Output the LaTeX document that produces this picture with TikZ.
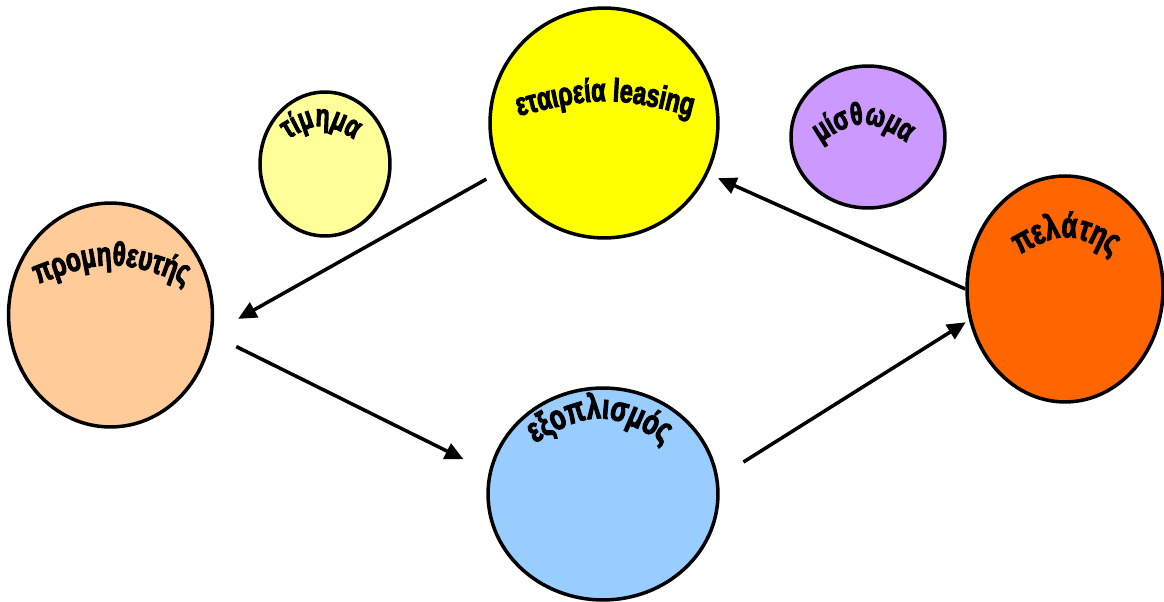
\documentclass[tikz,border=0pt]{standalone}
\usepackage{fontspec}
\usetikzlibrary{shapes.geometric,arrows.meta,decorations.text}
\newfontfamily\wordart{Liberation Sans Bold}[FakeStretch=0.72, FakeBold=3]
\newcommand{\wafont}[1]{\wordart\fontsize{#1}{#1}\selectfont}

\definecolor{ballyel}{HTML}{FFFF00}
\definecolor{balllight}{HTML}{FFFF99}
\definecolor{ballpurple}{HTML}{CC99FF}
\definecolor{ballpeach}{HTML}{FFCC99}
\definecolor{ballblue}{HTML}{99CCFF}
\definecolor{ballorange}{HTML}{FF6600}

\tikzset{
   ball/.style={ellipse, draw=black, line width=2pt, inner sep=0pt},
   flow/.style={-{Triangle[length=10.5pt,width=9.5pt]}, line width=2pt},
   arch/.style={decorate, decoration={text along path, text align=center, text={#1}}}
}

\begin{document}
\begin{tikzpicture}[x=0.02cm, y=-0.02cm]
   %% picture in pixel units, y downwards
   \useasboundingbox (0,0) rectangle (1164,602);

   \foreach \n/\p/\w/\h/\c in
   { eta/{(604,123)}/114/115/ballyel,
       tim/{(325,164)}/65/72/balllight,
       mis/{(868,137)}/77/71/ballpurple,
       prom/{(110.5,315)}/102/112/ballpeach,
       exo/{(603,494)}/115/106/ballblue,
       pel/{(1065,289)}/98/113/ballorange}
   {
       \node[ball, fill=\c, minimum width=\w*0.04cm, minimum height=\h*0.04cm] (\n) at \p {};
   };

   %% arched labels
   \path[arch={|\wafont{18.5}|εταιρεία leasing}] (476,127.6) .. controls (605,92.4) .. (734,127.6);
   \path[arch={|\wafont{18}|τίμημα}] (263.6,155.6) .. controls (321,116.4) .. (378.4,155.6);
   \path[arch={|\wafont{18}|μίσθωμα}] (791.4,162.5) .. controls (863.5,111.5) .. (935.6,162.5);
   \path[arch={|\wafont{19}|προμηθευτής}] (-2.6,300.5) .. controls (111.5,253.5) .. (225.6,300.5);
   \path[arch={|\wafont{20}|εξοπλισμός}] (491,471.2) .. controls (599.5,400.8) .. (708,471.2);
   \path[arch={|\wafont{20}|πελάτης}] (990.4,272.5) .. controls (1066,225.5) .. (1141.6,272.5);

   %% flows
   \draw[flow, shorten <=0.29cm, shorten >=0.578cm] (eta.205) -- (prom.-10);
   \draw[flow, shorten <=0.528cm, shorten >=0.564cm] (prom.-11) -- (exo.169);
   \draw[flow, shorten <=0.592cm, shorten >=0.078cm] (exo.8) -- (pel.198);
   \draw[flow, shorten >=0.214cm] (pel.180) -- (eta.-26);

\end{tikzpicture}
\end{document}
